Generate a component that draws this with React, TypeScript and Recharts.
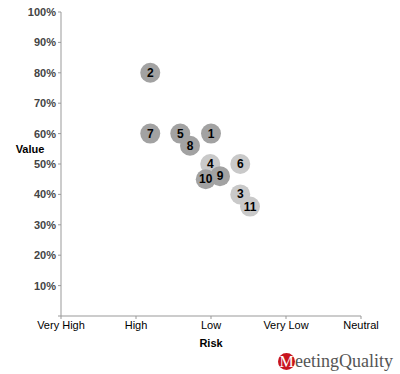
import { ScatterChart, Scatter, XAxis, YAxis } from 'recharts'

const riskLabels = ['Very High', 'High', 'Low', 'Very Low', 'Neutral']
const valueTicks = [0, 10, 20, 30, 40, 50, 60, 70, 80, 90, 100]

const ids = [1, 2, 3, 4, 5, 6, 7, 8, 9, 10, 11]
const risk = [2.0, 1.19, 2.39, 1.99, 1.59, 2.39, 1.19, 1.72, 2.12, 1.93, 2.52]
const value = [60, 80, 40, 50, 60, 50, 60, 56, 46, 45, 36]
const light = [false, false, true, true, false, true, false, false, false, false, true]

const points = ids.map((id, i) => ({ id, risk: risk[i], value: value[i], light: light[i] }))

const Bubble = (props: any) => {
  const { cx, cy, payload } = props
  return (
    <g>
      <circle cx={cx} cy={cy} r={10} fill={payload.light ? '#c9c9c9' : '#a2a2a2'} />
      <text
        x={cx}
        y={cy}
        dy={4}
        textAnchor="middle"
        fontFamily="Arial, Liberation Sans, sans-serif"
        fontSize={12}
        fontWeight="bold"
        fill="#000"
      >
        {payload.id}
      </text>
    </g>
  )
}

export default function App() {
  return (
    <div style={{ position: 'absolute', left: 0, top: 0, width: 400, height: 374, background: '#fff', fontFamily: 'Arial, Liberation Sans, sans-serif' }}>
      <ScatterChart width={400} height={374} margin={{ top: 12, right: 39, left: 0, bottom: 28 }}>
        <XAxis
          type="number"
          dataKey="risk"
          domain={[0, 4]}
          ticks={[0, 1, 2, 3, 4]}
          tickFormatter={(v: number) => riskLabels[v]}
          stroke="#999"
          tickSize={3}
          height={30}
          tick={{ fill: '#000', fontSize: 11 }}
          interval={0}
        />
        <YAxis
          type="number"
          dataKey="value"
          domain={[0, 100]}
          ticks={valueTicks}
          tickFormatter={(v: number) => (v === 0 ? '' : `${v}%`)}
          stroke="#999"
          tickSize={3}
          width={61}
          tick={{ fill: '#444', fontSize: 11, fontWeight: 'bold' }}
          interval={0}
        />
        <Scatter data={points} shape={Bubble} isAnimationActive={false} />
        <text x={30} y={153} textAnchor="middle" fontSize={11} fontWeight="bold" fill="#000">Value</text>
        <text x={211} y={347} textAnchor="middle" fontSize={11} fontWeight="bold" fill="#000">Risk</text>
      </ScatterChart>
      <div style={{ position: 'absolute', left: 278, top: 351, display: 'flex', alignItems: 'center', fontFamily: 'Liberation Serif, DejaVu Serif, serif', fontSize: 18, color: '#555' }}>
        <span style={{ display: 'inline-block', width: 17, height: 17, borderRadius: '50%', background: '#c8141e', color: '#fff', textAlign: 'center', lineHeight: '18px', fontSize: 16 }}>M</span>
        <span>eetingQuality</span>
      </div>
    </div>
  )
}
